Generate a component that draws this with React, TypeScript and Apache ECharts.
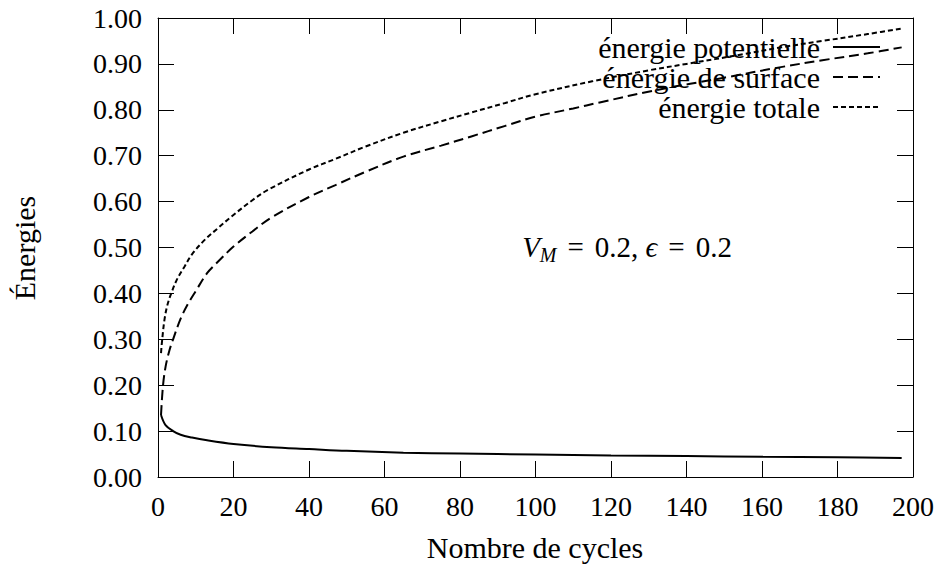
import React, { useEffect, useRef } from "react";
import * as echarts from "echarts";

const xTicks = [0, 20, 40, 60, 80, 100, 120, 140, 160, 180, 200];
const yTicks = [0, 0.1, 0.2, 0.3, 0.4, 0.5, 0.6, 0.7, 0.8, 0.9, 1.0];

const potentialX = [0.8, 2, 4, 6, 9, 13, 20, 30, 40, 50, 65, 80, 100, 120, 140, 160, 180, 197];
const potentialY = [0.135, 0.113, 0.1, 0.092, 0.086, 0.08, 0.072, 0.065, 0.061, 0.057, 0.053, 0.051, 0.049, 0.047, 0.0455, 0.044, 0.043, 0.0415];

const surfaceX = [0.8, 1.3, 2, 3, 4, 6, 8, 10, 13, 16, 20, 25, 30, 40, 47, 55, 65, 75, 83, 92, 100, 110, 117, 132, 150, 165, 176, 188, 197];
const surfaceY = [0.135, 0.197, 0.24, 0.275, 0.3, 0.345, 0.378, 0.405, 0.444, 0.47, 0.502, 0.535, 0.565, 0.61, 0.636, 0.665, 0.698, 0.722, 0.742, 0.765, 0.785, 0.803, 0.816, 0.843, 0.87, 0.893, 0.908, 0.923, 0.936];

const totalX = [0.8, 1, 1.7, 2.5, 3.5, 5, 7, 9, 12.3, 16, 19.4, 25, 29, 40, 47, 55, 65, 75, 83, 92, 100, 115, 130, 140, 155, 165, 176, 188, 197];
const totalY = [0.27, 0.29, 0.342, 0.375, 0.4, 0.43, 0.458, 0.485, 0.516, 0.543, 0.567, 0.603, 0.625, 0.67, 0.693, 0.72, 0.75, 0.775, 0.794, 0.815, 0.834, 0.862, 0.886, 0.9, 0.921, 0.936, 0.95, 0.965, 0.977];

const seriesNames = ["énergie potentielle", "énergie de surface", "énergie totale"];
const xTitle = "Nombre de cycles";
const yTitle = "Énergies";

const FONT = "Liberation Serif";

const zip = (xs: number[], ys: number[]) => xs.map((x, i) => [x, ys[i]]);

export default function App() {
  const ref = useRef<HTMLDivElement>(null);
  useEffect(() => {
    if (!ref.current) return;
    const chart = echarts.init(ref.current, undefined, { renderer: "svg" });
    const axisCommon = {
      type: "value" as const,
      axisLine: { show: true, onZero: false, lineStyle: { color: "#000", width: 1 } },
      axisTick: { show: true, inside: true, length: 16, lineStyle: { color: "#000", width: 1 } },
      splitLine: { show: false },
    };
    const labelStyle = { color: "#000", fontFamily: FONT, fontSize: 28 };
    const lineSeries = (name: string, xs: number[], ys: number[], type: any) => ({
      name,
      type: "line",
      data: zip(xs, ys),
      showSymbol: false,
      symbol: "none",
      smooth: 0.35,
      lineStyle: { color: "#000", width: 2, type },
      itemStyle: { color: "#000" },
    });
    chart.setOption({
      animation: false,
      backgroundColor: "#fff",
      textStyle: { fontFamily: FONT },
      grid: { left: 158, right: 27, top: 18, bottom: 88, containLabel: false },
      xAxis: [
        {
          ...axisCommon,
          position: "bottom",
          min: xTicks[0],
          max: xTicks[xTicks.length - 1],
          interval: 20,
          axisLabel: { ...labelStyle, margin: 15 },
        },
        {
          ...axisCommon,
          position: "top",
          min: xTicks[0],
          max: xTicks[xTicks.length - 1],
          interval: 20,
          axisLabel: { show: false },
        },
      ],
      yAxis: [
        {
          ...axisCommon,
          position: "left",
          min: yTicks[0],
          max: yTicks[yTicks.length - 1],
          interval: 0.1,
          axisLabel: { ...labelStyle, margin: 16, formatter: (v: number) => v.toFixed(2) },
        },
        {
          ...axisCommon,
          position: "right",
          min: yTicks[0],
          max: yTicks[yTicks.length - 1],
          interval: 0.1,
          axisLabel: { show: false },
        },
      ],
      legend: {
        orient: "vertical",
        align: "right",
        right: 54,
        top: 27,
        itemWidth: 47,
        itemHeight: 14,
        itemGap: 0,
        itemStyle: { opacity: 0 },
        textStyle: { color: "#000", fontFamily: FONT, fontSize: 30, lineHeight: 29.5, padding: [0, 8, 0, 0] },
        data: seriesNames,
      },
      series: [
        lineSeries(seriesNames[0], potentialX, potentialY, "solid"),
        lineSeries(seriesNames[1], surfaceX, surfaceY, [10, 5]),
        lineSeries(seriesNames[2], totalX, totalY, [5, 3]),
      ],
      graphic: [
        {
          type: "text",
          x: 535,
          y: 547,
          style: {
            text: xTitle,
            fill: "#000",
            fontFamily: FONT,
            fontSize: 30,
            align: "center",
            verticalAlign: "middle",
          },
        },
        {
          type: "text",
          x: 24,
          y: 248,
          rotation: Math.PI / 2,
          style: {
            text: yTitle,
            fill: "#000",
            fontFamily: FONT,
            fontSize: 30,
            align: "center",
            verticalAlign: "middle",
          },
        },
        {
          type: "text",
          x: 627,
          y: 247,
          style: {
            text: "{v|V}{s|M}{e|=}{n|0.2, }{v|ϵ}{e|=}{n|0.2}",
            fill: "#000",
            align: "center",
            verticalAlign: "middle",
            rich: {
              v: { fontFamily: FONT, fontSize: 29, fontStyle: "italic", lineHeight: 36, verticalAlign: "middle", fill: "#000" },
              s: { fontFamily: FONT, fontSize: 20, fontStyle: "italic", lineHeight: 20, verticalAlign: "bottom", fill: "#000" },
              e: { fontFamily: FONT, fontSize: 29, lineHeight: 36, verticalAlign: "middle", fill: "#000", padding: [0, 11, 0, 11] },
              n: { fontFamily: FONT, fontSize: 29, lineHeight: 36, verticalAlign: "middle", fill: "#000" },
            },
          },
        },
      ],
    });
    return () => chart.dispose();
  }, []);
  return <div ref={ref} style={{ width: 940, height: 565, position: "absolute", left: 0, top: 0 }} />;
}
